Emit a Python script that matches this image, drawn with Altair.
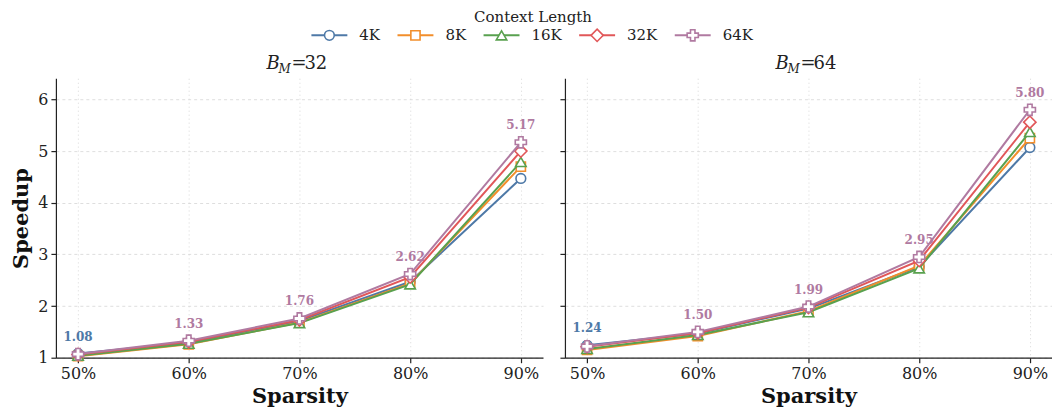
import altair as alt
import pandas as pd

sparsity = [50, 60, 70, 80, 90]
series = ["4K", "8K", "16K", "32K", "64K"]
colors = ["#4e79a7", "#f28e2b", "#59a14f", "#e15759", "#b07aa1"]

bm32_4k = [1.08, 1.29, 1.71, 2.47, 4.47]
bm32_8k = [1.03, 1.26, 1.68, 2.44, 4.70]
bm32_16k = [1.04, 1.27, 1.67, 2.42, 4.79]
bm32_32k = [1.06, 1.31, 1.73, 2.56, 5.00]
bm32_64k = [1.07, 1.33, 1.76, 2.62, 5.17]

bm64_4k = [1.24, 1.47, 1.95, 2.76, 5.07]
bm64_8k = [1.15, 1.42, 1.90, 2.78, 5.25]
bm64_16k = [1.17, 1.44, 1.88, 2.73, 5.37]
bm64_32k = [1.21, 1.48, 1.97, 2.88, 5.56]
bm64_64k = [1.22, 1.50, 1.99, 2.95, 5.80]

panels = [
    ("32", [bm32_4k, bm32_8k, bm32_16k, bm32_32k, bm32_64k]),
    ("64", [bm64_4k, bm64_8k, bm64_16k, bm64_32k, bm64_64k]),
]

marker_shapes = ["circle", "square", "triangle-up", "diamond", "cross"]
marker_sizes = [95, 85, 110, 150, 125]

W, H = 488, 280
FONT = "DejaVu Serif"
TXT = "#222"

color_scale = alt.Scale(domain=series, range=colors)
x_scale = alt.Scale(domain=[48, 92], nice=False)
y_scale = alt.Scale(domain=[1, 6.41], nice=False, zero=False)

one = alt.Data(values=[{"a": 1}])

LEG_TITLE_Y = -61
LEG_ROW_Y = -43


def legend_layers():
    """Manual legend (line + marker + label), laid out above the left panel."""
    out = []
    out.append(alt.Chart(one).mark_text(font=FONT, fontSize=15, color=TXT,
                                        align="center", baseline="middle").encode(
        x=alt.value(478), y=alt.value(LEG_TITLE_Y), text=alt.value("Context Length")))
    start = 256
    for s, c, shp, sz in zip(series, colors, marker_shapes, marker_sizes):
        out.append(alt.Chart(one).mark_rule(color=c, strokeWidth=2).encode(
            x=alt.value(start), x2=alt.value(start + 36), y=alt.value(LEG_ROW_Y)))
        out.append(alt.Chart(one).mark_point(shape=shp, size=sz, filled=False, fill="white",
                                             fillOpacity=1, opacity=1, color=c,
                                             strokeWidth=1.6).encode(
            x=alt.value(start + 18), y=alt.value(LEG_ROW_Y)))
        out.append(alt.Chart(one).mark_text(font=FONT, fontSize=15, color=TXT,
                                            align="left", baseline="middle").encode(
            x=alt.value(start + 48), y=alt.value(LEG_ROW_Y), text=alt.value(s)))
        width = 15 * (0.636 * sum(ch.isdigit() for ch in s) + 0.78)
        start = start + 48 + width + 17
    return out


def make_panel(bm, vals, first):
    rows = []
    for s, v in zip(series, vals):
        for x, y in zip(sparsity, v):
            rows.append({"sparsity": x, "speedup": y, "series": s})
    df = pd.DataFrame(rows)
    base = alt.Chart(df)

    x_enc = alt.X(
        "sparsity:Q", scale=x_scale,
        axis=alt.Axis(
            title="Sparsity", values=sparsity, labelExpr="datum.value + '%'",
            grid=True, gridDash=[1, 3], gridColor="#cfcfcf", gridWidth=0.8,
        ),
    )
    y_enc = alt.Y(
        "speedup:Q", scale=y_scale,
        axis=alt.Axis(
            title="Speedup" if first else None, values=[1, 2, 3, 4, 5, 6],
            labels=first, grid=True, gridDash=[3, 3], gridColor="#d6d6d6", gridWidth=0.8,
        ),
    )

    layers = []
    labels = base.transform_joinaggregate(
        mx="max(speedup)", groupby=["sparsity"]
    ).transform_filter("datum.speedup == datum.mx").mark_text(
        font=FONT, fontSize=12, fontWeight="bold", dy=-17, baseline="middle"
    ).encode(
        x=x_enc, y=y_enc,
        text=alt.Text("speedup:Q", format=".2f"),
        color=alt.Color("series:N", scale=color_scale, legend=None),
    )
    layers.append(labels)

    for s, shp, sz in zip(series, marker_shapes, marker_sizes):
        sub = base.transform_filter(alt.datum.series == s)
        line = sub.mark_line(strokeWidth=2).encode(
            x=x_enc, y=y_enc,
            color=alt.Color("series:N", scale=color_scale, legend=None),
        )
        pts = sub.mark_point(shape=shp, size=sz, filled=False, fill="white",
                             fillOpacity=1, strokeWidth=1.6, opacity=1).encode(
            x=x_enc, y=y_enc,
            color=alt.Color("series:N", scale=color_scale, legend=None),
        )
        layers += [line, pts]

    cx = W / 2
    title_parts = [
        ("B", 18, "italic", cx - 33, -9),
        ("M", 12, "italic", cx - 21, -5),
        ("=", 18, "normal", cx - 8, -9),
        (bm, 18, "normal", cx + 5, -9),
    ]
    for txt, fs, style, tx, ty in title_parts:
        layers.append(alt.Chart(one).mark_text(
            font=FONT, fontSize=fs, fontStyle=style, align="left",
            baseline="alphabetic", color=TXT).encode(
            x=alt.value(tx), y=alt.value(ty), text=alt.value(txt)))

    if first:
        layers += legend_layers()

    return alt.layer(*layers).properties(width=W, height=H)


left = make_panel(panels[0][0], panels[0][1], True)
right = make_panel(panels[1][0], panels[1][1], False)

chart = alt.hconcat(left, right, spacing=22, bounds="flush").configure(
    font=FONT, padding={"left": 2, "top": 2, "right": 0, "bottom": 0}
).configure_view(stroke=None).configure_axis(
    labelFont=FONT, labelFontSize=16, labelColor=TXT,
    titleFont=FONT, titleFontSize=21, titleFontWeight="bold", titleColor="#111",
    domainColor="#222", domainWidth=1.2, tickColor="#222", tickSize=5, tickWidth=1.2,
    labelPadding=3,
).configure_axisX(titlePadding=4).configure_axisY(titlePadding=6)

chart.save("out.html", embed_options={"renderer": "svg", "actions": False})
